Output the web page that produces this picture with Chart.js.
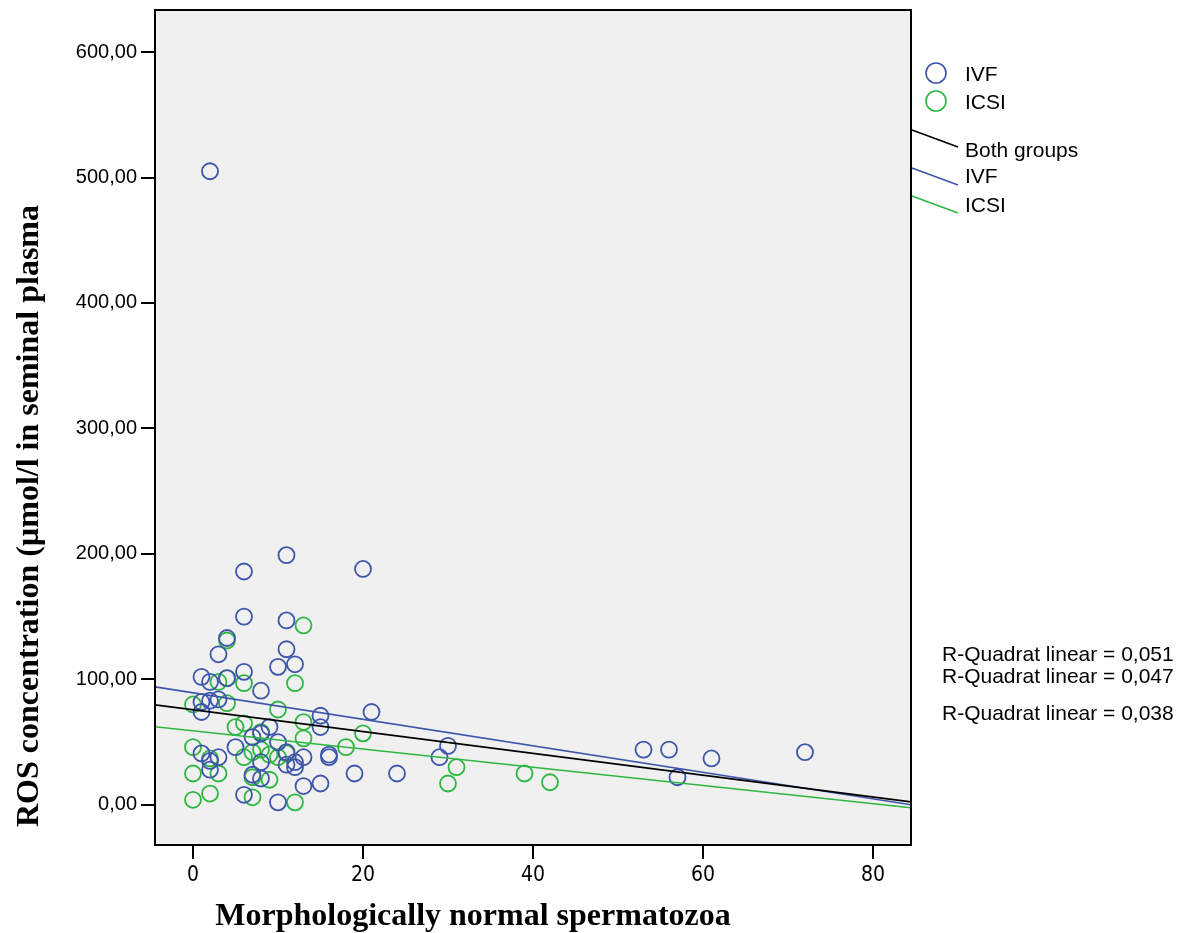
<!DOCTYPE html>
<html>
<head>
<meta charset="utf-8">
<script src="https://cdn.jsdelivr.net/npm/chart.js@4/dist/chart.umd.min.js"></script>
<style>
  html, body { margin: 0; padding: 0; background: #fff; }
  #wrap { width: 1186px; height: 933px; }
</style>
</head>
<body>
<div id="wrap"><canvas id="scatter"></canvas></div>
<script>
// IVF group (blue)
const ivfX = [2, 11, 20, 6, 6, 11, 4, 11, 3, 6, 10, 12, 1, 2, 4, 8, 1, 2, 3, 1, 21, 15, 15, 9, 8, 7, 5, 10, 30, 1,
              11, 16, 16, 3, 2, 13, 8, 12, 12, 11, 29, 2, 7, 8, 19, 24, 13, 15, 6, 10, 53, 56, 61, 57, 72];
const ivfY = [505, 199, 188, 186, 150, 147, 133, 124, 120, 106, 110, 112, 102, 98, 101, 91, 82, 83, 84, 74, 74, 71, 62, 62, 57, 54, 46, 50, 47, 41,
              42, 40, 38, 38, 35, 38, 34, 34, 30, 32, 38, 28, 24, 21, 25, 25, 15, 17, 8, 2, 44, 44, 37, 22, 42];

// ICSI group (green)
const icsiX = [13, 4, 12, 6, 3, 4, 0, 4, 10, 13, 5, 6, 8, 13, 20, 18, 0, 2, 6, 7, 8, 9, 10, 11, 0, 3, 7, 9, 2, 0,
               7, 12, 31, 30, 39, 42];
const icsiY = [143, 131, 97, 97, 98, 101, 80, 81, 76, 66, 62, 65, 58, 53, 57, 46, 46, 37, 38, 42, 44, 40, 38, 41, 25, 25, 22, 20, 9, 4,
               6, 2, 30, 17, 25, 18];

// linear fits: [intercept, slope]
const fitBoth = [75.8, -0.869];
const fitIvf = [89.3, -1.057];
const fitIcsi = [59.0, -0.726];
const rSquared = ["0,051", "0,047", "0,038"];

const xTicks = [0, 20, 40, 60, 80];
const yTicks = [0, 100, 200, 300, 400, 500, 600];
const xMin = -4.47, xMax = 84.47;
const yMin = -32, yMax = 633.5;

const BLUE = '#3d55aa';
const GREEN = '#2db640';

function toPoints(xs, ys) {
    return xs.map((x, i) => ({ x: x, y: ys[i] }));
}
function fitLine(fit) {
    return [xMin, xMax].map(x => ({ x: x, y: fit[0] + fit[1] * x }));
}

const framePlugin = {
    id: 'frame',
    beforeDraw(chart) {
        const { ctx, chartArea: a } = chart;
        ctx.save();
        ctx.fillStyle = '#ffffff';
        ctx.fillRect(0, 0, chart.width, chart.height);
        ctx.fillStyle = '#f0f0f0';
        ctx.fillRect(a.left, a.top, a.right - a.left, a.bottom - a.top);
        ctx.restore();
    },
    afterDraw(chart) {
        const { ctx, chartArea: a } = chart;
        ctx.save();
        // box
        ctx.strokeStyle = '#000';
        ctx.lineWidth = 2;
        ctx.strokeRect(a.left, a.top, a.right - a.left, a.bottom - a.top);

        // axis titles
        ctx.fillStyle = '#000';
        ctx.font = 'bold 32px "Liberation Serif", "Times New Roman", serif';
        ctx.textAlign = 'center';
        ctx.textBaseline = 'alphabetic';
        ctx.fillText('Morphologically normal spermatozoa', 473, 925);
        ctx.save();
        ctx.translate(38, 516);
        ctx.rotate(-Math.PI / 2);
        ctx.fillText('ROS concentration (\u00b5mol/l in seminal plasma', 0, 0);
        ctx.restore();

        // legend
        const lx = a.right;
        ctx.font = '21px "Liberation Sans", Arial, sans-serif';
        ctx.textAlign = 'left';
        ctx.textBaseline = 'middle';
        ctx.lineWidth = 1.6;
        [[BLUE, 'IVF', 73], [GREEN, 'ICSI', 101]].forEach(([c, t, y]) => {
            ctx.strokeStyle = c;
            ctx.beginPath();
            ctx.arc(lx + 25, y, 10, 0, Math.PI * 2);
            ctx.stroke();
            ctx.fillStyle = '#000';
            ctx.fillText(t, lx + 54, y + 2);
        });
        [['#000', 'Both groups', 130, 151], [BLUE, 'IVF', 168, 177], [GREEN, 'ICSI', 196, 206]].forEach(([c, t, y, ty]) => {
            ctx.strokeStyle = c;
            ctx.beginPath();
            ctx.moveTo(lx + 1, y);
            ctx.lineTo(lx + 47, y + 17);
            ctx.stroke();
            ctx.fillStyle = '#000';
            ctx.fillText(t, lx + 54, ty);
        });
        // R squared notes
        [655, 677, 714].forEach((y, i) => {
            ctx.fillText('R-Quadrat linear = ' + rSquared[i], lx + 31, y);
        });
        ctx.restore();
    }
};

new Chart(document.getElementById('scatter'), {
    type: 'scatter',
    data: {
        datasets: [
            {
                label: 'IVF',
                data: toPoints(ivfX, ivfY),
                borderColor: BLUE,
                backgroundColor: 'rgba(0,0,0,0)',
                pointRadius: 8,
                pointBorderWidth: 1.8,
                order: 2
            },
            {
                label: 'ICSI',
                data: toPoints(icsiX, icsiY),
                borderColor: GREEN,
                backgroundColor: 'rgba(0,0,0,0)',
                pointRadius: 8,
                pointBorderWidth: 1.8,
                order: 3
            },
            {
                type: 'line',
                label: 'Both groups',
                data: fitLine(fitBoth),
                borderColor: '#000',
                borderWidth: 1.6,
                pointRadius: 0,
                order: 1
            },
            {
                type: 'line',
                label: 'IVF fit',
                data: fitLine(fitIvf),
                borderColor: BLUE,
                borderWidth: 1.6,
                pointRadius: 0,
                order: 1
            },
            {
                type: 'line',
                label: 'ICSI fit',
                data: fitLine(fitIcsi),
                borderColor: GREEN,
                borderWidth: 1.6,
                pointRadius: 0,
                order: 1
            }
        ]
    },
    options: {
        responsive: true,
        maintainAspectRatio: false,
        animation: false,
        layout: { padding: { top: 10, right: 275, left: 0, bottom: 0 } },
        plugins: {
            legend: { display: false },
            tooltip: { enabled: false }
        },
        scales: {
            x: {
                type: 'linear',
                min: xMin,
                max: xMax,
                afterBuildTicks: scale => { scale.ticks = xTicks.map(v => ({ value: v })); },
                afterFit: scale => {
                    scale.height = 88;
                    scale.paddingLeft = 0;
                    scale.paddingRight = 0;
                },
                border: { display: false },
                grid: { drawOnChartArea: false, color: '#000', lineWidth: 2, tickLength: 14 },
                ticks: {
                    color: '#000',
                    padding: 4,
                    maxRotation: 0,
                    font: { family: '"Liberation Sans Narrow", "DejaVu Sans Condensed", Arial, sans-serif', size: 21 },
                    callback: v => String(v)
                }
            },
            y: {
                type: 'linear',
                min: yMin,
                max: yMax,
                afterBuildTicks: scale => { scale.ticks = yTicks.map(v => ({ value: v })); },
                afterFit: scale => {
                    scale.width = 155;
                    scale.paddingTop = 0;
                    scale.paddingBottom = 0;
                },
                border: { display: false },
                grid: { drawOnChartArea: false, color: '#000', lineWidth: 2, tickLength: 14 },
                ticks: {
                    color: '#000',
                    padding: 4,
                    font: { family: '"Liberation Sans", Arial, sans-serif', size: 20 },
                    callback: v => v.toFixed(2).replace('.', ',')
                }
            }
        }
    },
    plugins: [framePlugin]
});
</script>
</body>
</html>
